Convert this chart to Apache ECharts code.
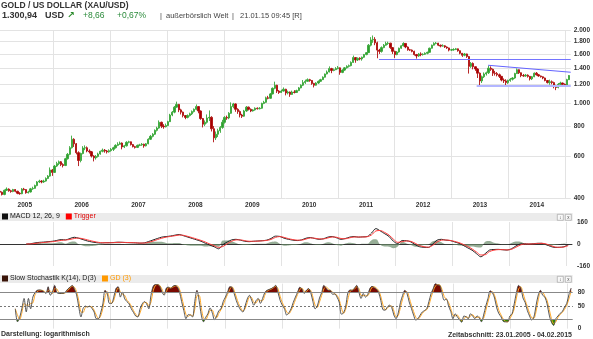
<!DOCTYPE html>
<html><head><meta charset="utf-8">
<script src="https://cdn.jsdelivr.net/npm/echarts@6/dist/echarts.min.js"></script>
<style>html,body{margin:0;padding:0;background:#fff}#c{width:593px;height:339px}</style>
</head><body><div id="c"></div>
<script>
// ---- time base: bi-weekly candles starting 23.01.2005 ----
const START = '2005-01-23';
const STEP_DAYS = 14;
const RANGE = ['2005-01-23', '2015-02-04'];

// ---- candles (open / close / low / high), one row per year ----
const open = [
 428,424,415,432,437,430,427,435,428,420,418,437,435,422,425,438,440,452,468,472,468,472,484,495,525,513,
 545,558,568,553,548,585,610,650,705,675,620,575,615,648,650,630,625,600,590,598,612,628,635,630,625,632,
 640,650,665,672,680,655,662,685,688,670,657,652,665,668,672,662,675,705,725,740,768,785,830,800,795,805,
 835,890,915,960,985,935,915,885,870,885,900,920,940,965,925,860,815,830,865,870,780,715,740,765,790,830,
 870,865,905,965,990,940,920,890,880,925,960,940,925,935,950,945,950,995,1005,1050,1045,1090,1150,1185,1120,1105,
 1120,1140,1100,1110,1085,1110,1105,1125,1155,1185,1215,1230,1250,1240,1205,1185,1210,1230,1250,1280,1320,1345,1390,1365,1375,1390,
 1400,1340,1370,1400,1420,1430,1475,1545,1510,1535,1525,1550,1590,1620,1740,1830,1840,1780,1660,1640,1700,1740,1770,1775,1700,1640,
 1590,1630,1690,1730,1770,1710,1665,1660,1640,1590,1570,1600,1590,1595,1610,1625,1690,1740,1770,1775,1740,1725,1730,1710,1695,1660,
 1665,1670,1680,1650,1610,1580,1600,1560,1420,1460,1415,1385,1330,1235,1285,1320,1335,1395,1380,1330,1325,1310,1290,1245,1235,1215,
 1240,1255,1270,1325,1375,1335,1300,1295,1305,1290,1260,1285,1330,1310,1295,1285,1270,1240,1215,1225,1215,1170,1160,1195,1210,1195,
 1185,1250];
const close = [
 424,415,432,437,430,427,435,428,420,418,437,435,422,425,438,440,452,468,472,468,472,484,495,525,513,545,
 558,568,553,548,585,610,650,705,675,620,575,615,648,650,630,625,600,590,598,612,628,635,630,625,632,640,
 650,665,672,680,655,662,685,688,670,657,652,665,668,672,662,675,705,725,740,768,785,830,800,795,805,835,
 890,915,960,985,935,915,885,870,885,900,920,940,965,925,860,815,830,865,870,780,715,740,765,790,830,870,
 865,905,965,990,940,920,890,880,925,960,940,925,935,950,945,950,995,1005,1050,1045,1090,1150,1185,1120,1105,1120,
 1140,1100,1110,1085,1110,1105,1125,1155,1185,1215,1230,1250,1240,1205,1185,1210,1230,1250,1280,1320,1345,1390,1365,1375,1390,1400,
 1340,1370,1400,1420,1430,1475,1545,1510,1535,1525,1550,1590,1620,1740,1830,1840,1780,1660,1640,1700,1740,1770,1775,1700,1640,1590,
 1630,1690,1730,1770,1710,1665,1660,1640,1590,1570,1600,1590,1595,1610,1625,1690,1740,1770,1775,1740,1725,1730,1710,1695,1660,1665,
 1670,1680,1650,1610,1580,1600,1560,1420,1460,1415,1385,1330,1235,1285,1320,1335,1395,1380,1330,1325,1310,1290,1245,1235,1215,1240,
 1255,1270,1325,1375,1335,1300,1295,1305,1290,1260,1285,1330,1310,1295,1285,1270,1240,1215,1225,1215,1170,1160,1195,1210,1195,1185,
 1250,1300.94];
const low = [
 419,411,412,429,426,422,424,424,416,414,416,431,418,419,423,434,438,449,463,462,464,469,481,492,496,510,
 540,550,545,538,545,580,605,645,655,610,545,565,610,635,622,615,592,570,580,592,608,622,620,615,620,626,
 630,645,660,668,640,648,658,678,664,652,645,648,660,662,650,658,672,700,718,735,760,780,785,780,790,800,
 832,880,905,955,915,895,870,855,862,878,890,912,932,905,850,790,800,820,840,760,685,700,720,750,780,820,
 850,855,900,950,918,900,870,865,875,918,930,915,920,928,938,940,945,988,1000,1035,1040,1085,1140,1100,1090,1100,
 1115,1075,1085,1060,1080,1095,1100,1120,1150,1175,1200,1225,1225,1190,1160,1180,1200,1225,1245,1275,1315,1340,1330,1355,1370,1380,
 1310,1330,1360,1390,1405,1420,1470,1470,1495,1505,1500,1540,1580,1615,1720,1780,1740,1535,1600,1620,1690,1730,1745,1680,1600,1540,
 1580,1620,1680,1720,1690,1650,1645,1625,1575,1530,1555,1565,1575,1585,1595,1620,1685,1735,1755,1725,1705,1715,1695,1680,1640,1645,
 1650,1660,1635,1595,1555,1565,1540,1325,1400,1380,1360,1270,1180,1210,1270,1300,1320,1360,1295,1300,1290,1270,1230,1210,1185,1200,
 1225,1240,1260,1320,1320,1280,1285,1285,1275,1240,1245,1280,1300,1285,1275,1255,1230,1205,1190,1195,1150,1130,1150,1185,1175,1170,
 1180,1245];
const high = [
 431,427,435,444,440,434,438,437,430,424,441,442,437,430,442,447,456,472,478,476,478,489,500,538,530,551,
 568,575,572,560,590,618,660,730,712,680,628,620,660,665,658,640,630,605,606,620,632,645,642,636,640,648,
 656,672,685,690,684,668,692,695,690,674,662,670,675,680,676,680,712,735,748,775,795,845,835,815,820,842,
 900,925,970,1012,990,945,920,890,895,910,930,948,985,970,930,865,845,895,930,880,800,760,780,800,850,880,
 885,915,1005,1000,995,950,930,900,935,970,965,948,942,958,958,960,1002,1020,1062,1070,1100,1160,1226,1190,1130,1135,
 1160,1145,1125,1115,1125,1130,1135,1165,1195,1245,1250,1265,1260,1245,1212,1220,1240,1260,1290,1325,1365,1420,1400,1390,1410,1425,
 1405,1380,1410,1435,1445,1490,1575,1550,1545,1550,1560,1600,1630,1760,1880,1910,1880,1800,1680,1720,1760,1800,1800,1780,1710,1650,
 1645,1700,1740,1790,1775,1720,1680,1670,1650,1600,1615,1625,1610,1625,1635,1700,1750,1790,1795,1780,1750,1755,1740,1720,1700,1680,
 1690,1695,1685,1655,1615,1615,1605,1570,1480,1475,1420,1395,1340,1300,1340,1350,1430,1420,1390,1360,1345,1325,1295,1265,1255,1250,
 1270,1280,1335,1392,1380,1340,1320,1320,1315,1295,1295,1340,1345,1320,1300,1290,1275,1245,1250,1240,1225,1190,1210,1225,1215,1205,
 1260,1307];

// ---- price axis ticks (log scale) ----
const priceTicks = [400, 600, 800, 1000, 1200, 1400, 1600, 1800, 2000];

// ---- drawn trend lines: [startDate, startValue, endDate, endValue] ----
const trendLines = [
 ['2011-09-22', 1520, '2015-02-04', 1520],
 ['2013-06-10', 1182, '2015-02-04', 1182],
 ['2013-08-23', 1435, '2015-02-04', 1342]
];

// ---- MACD 12,26,9 (every 2nd candle, starting at candle 12) ----
const MACD_OFFSET = 12, MACD_STEP = 2;
const macd = [0,2,8,12,14,17,20,26,32,30,40,49,42,32,22,15,10,7,9,10,11,13,12,10,9,8,6,8,18,29,40,50,54,58,64,69,60,50,40,30,20,5,-8,-20,-35,-5,15,30,34,28,20,17,20,22,24,28,40,57,55,42,34,28,25,30,42,47,40,34,38,50,54,45,34,40,50,54,50,52,54,80,112,95,75,55,20,3,25,24,15,-5,-20,-24,-25,0,28,34,28,25,15,5,-10,-28,-45,-70,-93,-70,-44,-40,-39,-42,-44,-35,-15,0,2,0,2,5,5,-5,-18,-25,-24,-20,-5];
const trigger = [0,1,4,8,11,14,17,21,26,29,33,40,43,38,30,22,15,10,9,9,10,12,12,11,10,9,7,7,12,21,32,42,50,55,60,65,63,55,46,36,26,14,0,-12,-25,-18,2,20,30,30,24,20,20,21,23,26,33,48,54,48,39,32,28,28,36,44,42,37,37,44,51,49,40,38,45,51,51,51,53,66,95,98,84,65,35,12,17,22,19,5,-12,-20,-23,-10,15,28,29,26,19,10,-3,-18,-36,-58,-80,-78,-55,-45,-41,-41,-43,-39,-24,-8,0,0,1,4,5,0,-12,-22,-24,-22,-12];
const histo = [0,2,8,8,6,6,6,10,12,2,14,18,-2,-12,-16,-14,-10,-6,0,2,2,2,0,-2,-2,-2,-2,2,12,16,16,16,8,6,8,8,-6,-10,-12,-12,-12,-18,-16,-16,-20,26,26,20,8,-4,-8,-6,0,2,2,4,14,18,2,-12,-10,-8,-6,4,12,6,-4,-6,2,12,6,-8,-12,4,10,6,-2,2,2,28,34,-6,-18,-20,-30,-18,16,4,-8,-20,-16,-8,-4,20,26,12,-2,-2,-8,-10,-14,-20,-18,-24,-26,16,22,10,4,-2,-2,8,18,16,4,0,2,2,0,-10,-12,-6,0,4,14];

// ---- Slow Stochastik K(14), D(3) and GD(3), starting at candle 7 ----
const STO_OFFSET = 7;
const stoK = [44,15,25,45,67,37,67,44,70,80,85,86,85,82,78,93,74,82,96,80,78,78,78,82,88,92,96,88,75,48,26,45,50,48,50,45,37,22,22,35,55,85,78,56,56,70,89,93,70,81,66,60,55,44,36,28,26,44,55,60,55,44,74,94,98,98,94,82,74,90,92,89,94,96,93,82,60,40,22,31,30,26,60,85,62,30,15,25,33,46,35,20,28,40,44,60,70,81,93,92,78,62,50,41,37,50,66,74,63,52,62,67,56,67,80,85,87,89,92,96,81,63,52,44,30,35,44,58,70,81,92,88,78,85,89,80,60,44,50,68,80,96,90,85,85,76,77,70,59,32,35,50,80,86,85,90,96,81,67,78,70,75,89,94,91,88,81,63,42,41,48,52,47,30,22,35,58,74,85,78,59,45,30,19,22,30,37,40,44,60,78,89,100,97,96,78,63,66,50,38,22,33,26,20,14,28,26,22,33,28,22,28,24,15,30,50,67,84,80,68,46,33,26,16,15,15,28,33,55,80,96,90,68,58,40,28,19,26,52,75,85,74,70,55,30,14,7,22,28,34,38,48,56,76,90];
const stoD = [44,30,20,35,56,52,52,56,57,75,82,85,85,84,80,85,84,78,89,88,79,78,78,80,85,90,94,92,82,62,37,36,47,49,49,48,41,30,22,28,45,70,82,67,56,63,80,91,82,76,74,63,58,50,40,32,27,35,50,58,58,50,59,84,96,98,96,88,78,82,91,91,92,95,95,88,71,50,31,27,31,28,43,73,74,46,23,20,29,40,41,28,24,34,42,52,65,76,87,93,85,70,56,46,39,44,58,70,69,58,57,65,62,62,74,83,86,88,91,94,89,72,58,48,37,33,40,51,64,76,87,90,83,82,87,85,70,52,47,59,74,88,93,88,85,81,77,74,65,46,34,43,65,83,86,88,93,89,74,73,74,73,82,92,93,90,85,72,53,42,45,50,50,39,26,29,47,66,80,82,69,52,38,25,21,26,34,39,42,52,69,84,95,98,97,87,71,65,58,44,30,28,30,23,17,21,27,24,28,31,25,25,26,20,23,40,59,76,82,74,57,40,30,21,16,15,22,31,44,68,88,93,79,63,49,34,24,23,39,64,80,80,72,63,43,22,11,15,25,31,36,43,52,66,83];

// ---- year ticks ----
const yearStarts = [2006,2007,2008,2009,2010,2011,2012,2013,2014,2015];
const yearLabels = [2005,2006,2007,2008,2009,2010,2011,2012,2013,2014];

// ---- header texts ----
const headerLine2 = [
  ['1.300,94', 'p'], ['USD', 'p'], ['↗', 'ar'], ['+8,66', 'g'], ['+0,67%', 'g'],
  ['|', 's'], ['außerbörslich Welt', 's'], ['|', 's'], ['21.01.15 09:45 [R]', 's']
];

// ================= build =================
const DAY = 86400000;
const t0 = new Date(START + 'T00:00:00Z').getTime();
const dateAt = i => t0 + i * STEP_DAYS * DAY;
const ts = s => new Date(s + 'T00:00:00Z').getTime();
const xMin = ts(RANGE[0]), xMax = ts(RANGE[1]);
const yearStartTs = yearStarts.map(y => Date.UTC(y, 0, 1));
const yearMidTs = yearLabels.map(y => Date.UTC(y, 6, 1));

const candleData = close.map((c, i) => [dateAt(i), open[i], c, low[i], high[i]]);
const macdAt = j => dateAt(MACD_OFFSET + j * MACD_STEP);
const macdData = macd.map((v, j) => [macdAt(j), v]);
const trigData = trigger.map((v, j) => [macdAt(j), v]);
const histData = histo.map((v, j) => [macdAt(j), v]);
const kData = stoK.map((v, j) => [dateAt(STO_OFFSET + j), v]);
const dData = stoD.map((v, j) => [dateAt(STO_OFFSET + j), v]);

const FONT = '"Liberation Sans", Arial, sans-serif';
const fmtDE = v => { const s = String(Math.round(v)); return s.length > 3 ? s.slice(0, -3) + '.' + s.slice(-3) : s; };
const axisLbl = { fontFamily: FONT, fontSize: 6.5, fontWeight: 'bold', color: '#333' };
const vGrid = { show: true, lineStyle: { color: '#e3e3e3', width: 1 } };

function xAx(gridIndex, showLabels, axisLine) {
  return {
    type: 'value', gridIndex, min: xMin, max: xMax, scale: true,
    axisLine: axisLine || { show: false },
    axisTick: { show: false, customValues: yearStartTs },
    splitLine: vGrid,
    axisLabel: showLabels ? Object.assign({ customValues: yearMidTs, margin: 3,
      formatter: v => String(new Date(v).getUTCFullYear()) }, axisLbl) : { show: false }
  };
}

const line2Style = {
  p: { fontFamily: FONT, fontSize: 9, fontWeight: 'bold', fill: '#333' },
  ar: { fontFamily: '"DejaVu Sans"', fontSize: 9, fontWeight: 'bold', fill: '#2a8a2a' },
  g: { fontFamily: FONT, fontSize: 8.5, fontWeight: 'normal', fill: '#2a8a3a' },
  s: { fontFamily: FONT, fontSize: 7.5, fontWeight: 'normal', fill: '#444' }
};
const line2X = [2, 45, 67, 83, 117, 160, 166, 232, 240];

const chart = echarts.init(document.getElementById('c'), null, { renderer: 'canvas' });
const headerBar = (y) => ({ type: 'rect', left: 0, top: y, shape: { width: 572.7, height: 8 }, style: { fill: '#ebebeb' }, z: -1, silent: true });
const btn = (x, y, t) => ({ type: 'group', left: x, top: y, silent: true, children: [
  { type: 'rect', shape: { x: 0, y: 0, width: 6, height: 6 }, style: { fill: '#f8f8f8', stroke: '#999', lineWidth: 0.6 } },
  { type: 'text', x: 3, y: 3, style: { text: t, fontSize: 4.5, fontFamily: FONT, fill: '#444', align: 'center', verticalAlign: 'middle' } } ] });
const line2Graphics = headerLine2.map((h, k) => ({ type: 'text', x: line2X[k], y: 15.5, silent: true,
  style: Object.assign({ text: h[0], verticalAlign: 'middle', align: 'left' }, line2Style[h[1]]) }));

chart.setOption({
  animation: false,
  backgroundColor: '#fff',
  title: [
    { text: 'GOLD / US DOLLAR (XAU/USD)', left: 1, top: 1, padding: 0,
      textStyle: { fontFamily: FONT, fontSize: 8.5, fontWeight: 'bold', color: '#333' } },
    { text: 'Darstellung: logarithmisch', left: 1, top: 331, padding: 0,
      textStyle: { fontFamily: FONT, fontSize: 7, fontWeight: 'bold', color: '#333' } },
    { text: 'Zeitabschnitt: 23.01.2005 - 04.02.2015', right: 21, top: 331.5, padding: 0,
      textStyle: { fontFamily: FONT, fontSize: 7, fontWeight: 'bold', color: '#333' } }
  ],
  legend: [
    { left: 2, top: 213, padding: 0, itemWidth: 6, itemHeight: 6, itemGap: 6, selectedMode: false, icon: 'rect',
      textStyle: { fontFamily: FONT, fontSize: 7, padding: [0, 0, 0, -3] },
      data: [{ name: 'MACD 12, 26, 9', textStyle: { color: '#111' }, itemStyle: { color: '#111' } },
             { name: 'Trigger', textStyle: { color: '#e00000' }, itemStyle: { color: '#ff0000' } }] },
    { left: 2, top: 275, padding: 0, itemWidth: 6, itemHeight: 6, itemGap: 6, selectedMode: false, icon: 'rect',
      textStyle: { fontFamily: FONT, fontSize: 7, padding: [0, 0, 0, -3] },
      data: [{ name: 'Slow Stochastik K(14), D(3)', textStyle: { color: '#222' }, itemStyle: { color: '#3a1408' } },
             { name: 'GD (3)', textStyle: { color: '#ff9900' }, itemStyle: { color: '#ff9900' } }] }
  ],
  graphic: [ headerBar(213), headerBar(275), btn(557, 214, '↕'), btn(565, 214, 'x'), btn(557, 276, '↕'), btn(565, 276, 'x') ].concat(line2Graphics),
  grid: [
    { left: 0, right: 20.3, top: 30.7, height: 167.6 },
    { left: 0, right: 20.3, top: 222, height: 44 },
    { left: 0, right: 20.3, top: 283.6, height: 45 }
  ],
  xAxis: [
    xAx(0, true),
    xAx(1, false, { show: true, onZero: true, lineStyle: { color: '#333', width: 1 } }),
    xAx(2, false)
  ],
  yAxis: [
    { type: 'log', logBase: 10, gridIndex: 0, min: 400, max: 2000, position: 'right',
      axisLine: { show: false }, axisTick: { show: false, customValues: priceTicks },
      axisLabel: Object.assign({ customValues: priceTicks, formatter: fmtDE, margin: 3 }, axisLbl),
      splitLine: { show: true, lineStyle: { color: '#e3e3e3' } } },
    { type: 'value', gridIndex: 1, min: -160, max: 160, position: 'right',
      axisLine: { show: false }, axisTick: { show: false, customValues: [-160, 0, 160] },
      axisLabel: Object.assign({ customValues: [-160, 0, 160], margin: 5 }, axisLbl),
      splitLine: { show: false } },
    { type: 'value', gridIndex: 2, min: 0, max: 100, position: 'right',
      axisLine: { show: false }, axisTick: { show: false, customValues: [0, 50, 80] },
      axisLabel: Object.assign({ customValues: [0, 50, 80], margin: 5 }, axisLbl),
      splitLine: { show: false } }
  ],
  visualMap: [
    { show: false, type: 'piecewise', seriesIndex: 4, dimension: 1,
      pieces: [{ gt: 80, lte: 1000, color: '#7a0800' }, { gte: -1000, lte: 80, color: 'rgba(255,255,255,0)' }] },
    { show: false, type: 'piecewise', seriesIndex: 5, dimension: 1,
      pieces: [{ gte: -1000, lt: 20, color: '#2e8c00' }, { gte: 20, lte: 1000, color: 'rgba(255,255,255,0)' }] }
  ],
  series: [
    { name: 'XAU/USD', type: 'candlestick', xAxisIndex: 0, yAxisIndex: 0, data: candleData,
      encode: { x: 0, y: [1, 2, 3, 4] }, barWidth: 1.8,
      itemStyle: { color: '#2f9e2f', color0: '#a50000', borderColor: '#3aa83a', borderColor0: '#b01010', borderWidth: 0.9 },
      markLine: { symbol: 'none', silent: true, label: { show: false },
        data: trendLines.map((t, k) => [
          { coord: [ts(t[0]), t[1]], lineStyle: { color: ['#7474ff', '#b3b6ff', '#6464ff'][k], width: [1, 2, 1][k], type: 'solid' } },
          { coord: [ts(t[2]), t[3]] } ]) } },
    { name: 'Histogramm', type: 'line', xAxisIndex: 1, yAxisIndex: 1, data: histData, smooth: 0.4,
      symbol: 'none', lineStyle: { width: 0 }, itemStyle: { color: '#6f8f6f' },
      areaStyle: { color: '#6a8a6a', opacity: 0.7, origin: 0 } },
    { name: 'MACD 12, 26, 9', type: 'line', xAxisIndex: 1, yAxisIndex: 1, data: macdData, smooth: 0.3,
      symbol: 'none', lineStyle: { color: '#222', width: 1 }, itemStyle: { color: '#111' } },
    { name: 'Trigger', type: 'line', xAxisIndex: 1, yAxisIndex: 1, data: trigData, smooth: 0.3,
      symbol: 'none', lineStyle: { color: '#ff3a3a', width: 1 }, itemStyle: { color: '#ff0000' } },
    { name: 'OB', type: 'line', xAxisIndex: 2, yAxisIndex: 2, data: kData, smooth: 0.3, symbol: 'none',
      lineStyle: { width: 0, opacity: 0 }, areaStyle: { opacity: 1, origin: 80 }, z: 1 },
    { name: 'OS', type: 'line', xAxisIndex: 2, yAxisIndex: 2, data: kData, smooth: 0.3, symbol: 'none',
      lineStyle: { width: 0, opacity: 0 }, areaStyle: { opacity: 1, origin: 20 }, z: 1 },
    { name: 'GD (3)', type: 'line', xAxisIndex: 2, yAxisIndex: 2, data: dData, smooth: 0.3, symbol: 'none',
      lineStyle: { color: '#ffaa2a', width: 1 }, itemStyle: { color: '#ff9900' }, z: 3,
      markLine: { symbol: 'none', silent: true, label: { show: false },
        data: [ { yAxis: 80, lineStyle: { color: '#888', width: 1, type: 'solid' } },
                { yAxis: 20, lineStyle: { color: '#888', width: 1, type: 'solid' } },
                { yAxis: 50, lineStyle: { color: '#555', width: 0.8, type: [2, 2] } } ] } },
    { name: 'Slow Stochastik K(14), D(3)', type: 'line', xAxisIndex: 2, yAxisIndex: 2, data: kData, smooth: 0.3,
      symbol: 'none', lineStyle: { color: '#444', width: 0.9 }, itemStyle: { color: '#3a1408' }, z: 4 }
  ]
});
</script></body></html>
